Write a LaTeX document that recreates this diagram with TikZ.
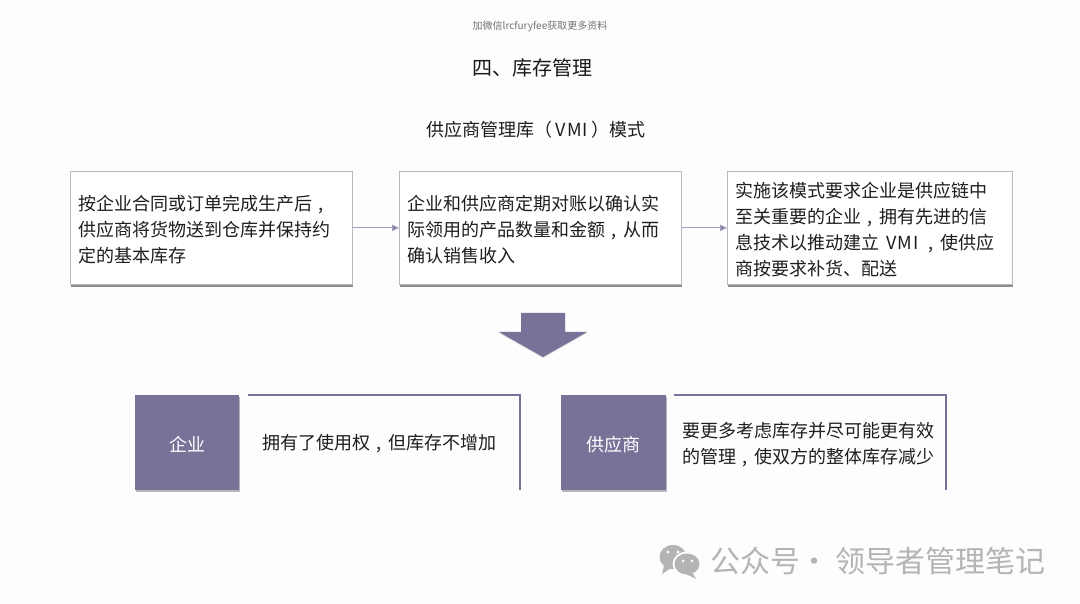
\documentclass[tikz,border=0pt]{standalone}
\usepackage{fontspec}
\setmainfont{Noto Sans CJK SC}
\usetikzlibrary{shadows,arrows.meta}
\definecolor{pur}{HTML}{7A7199}
\definecolor{purl}{HTML}{A5A1BC}
\definecolor{txt}{HTML}{1E1E1E}
\definecolor{bord}{HTML}{B9B9C2}
\definecolor{wm}{HTML}{B4B4B4}
\definecolor{bgc}{HTML}{FDFDFD}
\newcommand{\cm}{\makebox[1em][c]{,}}
\newcommand{\vmi}{\hspace{3pt}V\hspace{1pt}M\hspace{1pt}I\hspace{3pt}}
\tikzset{
  x=1pt,y=-1pt,
  txtbox/.style={draw=bord,line width=0.8pt,fill=white,minimum height=113pt,inner sep=0pt,anchor=north west,
    drop shadow={shadow xshift=0.5pt,shadow yshift=-3pt,fill=black!55,opacity=.8}},
  para/.style={anchor=west,align=left,inner sep=0pt,text=txt,font=\fontsize{18}{26}\selectfont},
  square/.style={fill=pur,minimum width=104pt,minimum height=95pt,inner sep=0pt,anchor=north west,text=white,font=\fontsize{18}{24}\selectfont,
    text height=20pt,text depth=3pt,
    drop shadow={shadow xshift=1.2pt,shadow yshift=-1.5pt,fill=black!40,opacity=.7}},
  flow/.style={draw=purl,line width=1pt,-{Triangle[length=7pt,width=6.5pt,fill=pur]}},
  frameline/.style={draw=pur,line width=1.5pt},
}
\begin{document}
\begin{tikzpicture}
\useasboundingbox (0,0) rectangle (1080,604);
\fill[bgc] (0,0) rectangle (1080,604);
\node[inner sep=0pt,text=black!55,font=\fontsize{10}{12}\selectfont] (top) at (540,26) {加微信lrcfuryfee获取更多资料};
\node[inner sep=0pt,text=black!90,font=\fontsize{20}{24}\selectfont] (title) at (532,68) {四、库存管理};
\node[inner sep=0pt,text=txt,font=\fontsize{18}{24}\selectfont] (sub) at (536,129.5) {供应商管理库（\vmi）模式};
\node[txtbox,minimum width=282pt] (b1) at (70,171) {};
\node[txtbox,minimum width=282pt] (b2) at (399,171) {};
\node[txtbox,minimum width=285pt] (b3) at (727,171) {};
\node[para] (t1) at (78,229.5) {按企业合同或订单完成生产后\cm\\供应商将货物送到仓库并保持约\\定的基本库存};
\node[para] (t2) at (407,229.5) {企业和供应商定期对账以确认实\\际领用的产品数量和金额\cm 从而\\确认销售收入};
\node[para] (t3) at (735,230) {实施该模式要求企业是供应链中\\至关重要的企业\cm 拥有先进的信\\息技术以推动建立\hspace{4pt}\vmi\hspace{1pt}\cm 使供应\\商按要求补货、配送};
\draw[flow] (b1.east) -- (b2.west);
\draw[flow] (b2.east) -- (b3.west);
\path[fill=pur,drop shadow={shadow xshift=0pt,shadow yshift=-1pt,fill=black!25,opacity=.6}]
  (521,313) -- (565,313) -- (565,332) -- (587,332) -- (543,357) -- (499,332) -- (521,332) -- cycle;
\node[square] (s1) at (135,395) {企业};
\node[square,minimum width=105pt] (s2) at (561,395) {供应商};
\coordinate (f1a) at (248,395); \coordinate (f1b) at (520,395); \coordinate (f1c) at (520,490);
\coordinate (f2a) at (674,395); \coordinate (f2b) at (946,395); \coordinate (f2c) at (946,490);
\draw[frameline] (f1a) -- (f1b) -- (f1c);
\draw[frameline] (f2a) -- (f2b) -- (f2c);
\node[para] (t4) at (262,444) {拥有了使用权\cm 但库存不增加};
\node[para] (t5) at (682,444.5) {要更多考虑库存并尽可能更有效\\的管理\cm 使双方的整体库存减少};
% watermark icon
\fill[wm] (673,557) ellipse (13.5 and 12);
\fill[wm] (664,566) -- (662,574) -- (671,568) -- cycle;
\fill[bgc] (687,564) ellipse (14.5 and 12.5);
\fill[wm] (687,564) ellipse (12.5 and 10.5);
\fill[wm] (692,572) -- (696,579) -- (686,574) -- cycle;
\fill[bgc] (668,552) circle (1.7) (678,552) circle (1.7) (683,561) circle (1.5) (692,561) circle (1.5);
\node[anchor=west,inner sep=0pt,text=wm,font=\fontsize{30}{34}\selectfont] (wmt) at (710,561) {公众号\hspace{-1pt}·\hspace{6pt}领导者管理笔记};
\end{tikzpicture}
\end{document}
